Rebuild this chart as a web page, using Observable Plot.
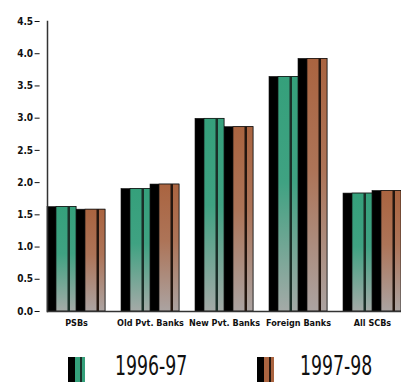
<!DOCTYPE html>
<html><head><meta charset="utf-8">
<script src="https://cdn.jsdelivr.net/npm/d3@7"></script>
<script src="https://cdn.jsdelivr.net/npm/@observablehq/plot@0.6"></script>
<style>
body{margin:0;background:#fff;width:401px;height:382px;overflow:hidden;}
#legend{position:relative;height:42px;width:401px;font-family:'Liberation Sans Narrow','DejaVu Sans Condensed',sans-serif;}
.icon{position:absolute;top:17px;width:17px;height:25px;}
.ltext{position:absolute;top:16px;font-size:26px;line-height:20px;height:20px;color:#111;transform:scaleX(0.74);transform-origin:left top;white-space:nowrap;}
</style></head>
<body><div id="chart"></div><div id="legend"></div>
<script>
const categories = ["PSBs", "Old Pvt. Banks", "New Pvt. Banks", "Foreign Banks", "All SCBs"];
const years = ["1996-97", "1997-98"];
const values9697 = [1.62, 1.90, 2.99, 3.64, 1.83];
const values9798 = [1.58, 1.97, 2.86, 3.92, 1.87];
const yTicks = [0, 0.5, 1, 1.5, 2, 2.5, 3, 3.5, 4, 4.5];
const yTickLabels = ["0.0", "0.5", "1.0", "1.5", "2.0", "2.5", "3.0", "3.5", "4.0", "4.5"];

const data = categories.flatMap((c, i) => [
  {category: c, year: years[0], value: values9697[i]},
  {category: c, year: years[1], value: values9798[i]}
]);
const first = data.filter(d => d.year === years[0]);
const second = data.filter(d => d.year === years[1]);

const defs = () => {
  const s = d3.create("svg:defs");
  [["gGreen", "#35a07b", "#3fa282", "#a4aaa7"], ["gBrown", "#aa6440", "#ad7458", "#aba3a1"]].forEach(([id, a, b, c]) => {
    const g = s.append("linearGradient").attr("id", id).attr("x1", 0).attr("y1", 0).attr("x2", 0).attr("y2", 1);
    g.append("stop").attr("offset", "0%").attr("stop-color", a);
    g.append("stop").attr("offset", "45%").attr("stop-color", b);
    g.append("stop").attr("offset", "100%").attr("stop-color", c);
  });
  return s.node();
};

const common = {fx: "category", x: "year", y: "value"};
const chart = Plot.plot({
  width: 401, height: 340,
  marginLeft: 38, marginRight: 0, marginTop: 21, marginBottom: 29,
  style: {fontFamily: "'Liberation Sans Narrow','DejaVu Sans Condensed',sans-serif", background: "#fff", color: "#111"},
  fx: {domain: categories, paddingInner: 0.215, paddingOuter: 0.05, align: 1, label: null},
  x: {domain: years, padding: 0, axis: null},
  y: {domain: [0, 4.5], axis: null},
  marks: [
    defs,
    Plot.barY(data, {...common, fill: "#000", stroke: "#111", strokeWidth: 0.6}),
    Plot.barY(first, {...common, fill: "url(#gGreen)", insetLeft: 9, stroke: "#111", strokeWidth: 0.7}),
    Plot.barY(second, {...common, fill: "url(#gBrown)", insetLeft: 9, stroke: "#111", strokeWidth: 0.7}),
    Plot.barY(first, {...common, fill: "#1b2f28", insetLeft: 20.5, insetRight: 6}),
    Plot.barY(second, {...common, fill: "#24160f", insetLeft: 20.5, insetRight: 6}),
    Plot.frame({anchor: "bottom", facet: "super", stroke: "#333", strokeWidth: 1.5}),
    Plot.frame({anchor: "left", facet: "super", stroke: "#333", strokeWidth: 1.5}),
    Plot.axisY({anchor: "left", dx: -7.4, ticks: yTicks, tickFormat: (d, i) => yTickLabels[i], tickSize: 5, tickPadding: 2, fontSize: 10, fontWeight: "bold", label: null}),
    Plot.axisFx({anchor: "bottom", tickSize: 0, tickPadding: 8, fontSize: 9, fontWeight: "bold", label: null})
  ]
});
document.getElementById("chart").appendChild(chart);

const legend = d3.select("#legend");
const swatches = [["#35a07b", "#1b2f28"], ["#aa6440", "#24160f"]];
const positions = [[68, 115], [257, 300]];
years.forEach((y, i) => {
  const [c, s] = swatches[i];
  legend.append("div").attr("class", "icon")
    .style("left", positions[i][0] + "px")
    .style("background", `linear-gradient(to right, #000 0 7px, ${c} 7px 12px, ${s} 12px 14px, ${c} 14px 17px)`);
  legend.append("div").attr("class", "ltext").style("left", positions[i][1] + "px").text(y);
});
</script>
</body></html>
